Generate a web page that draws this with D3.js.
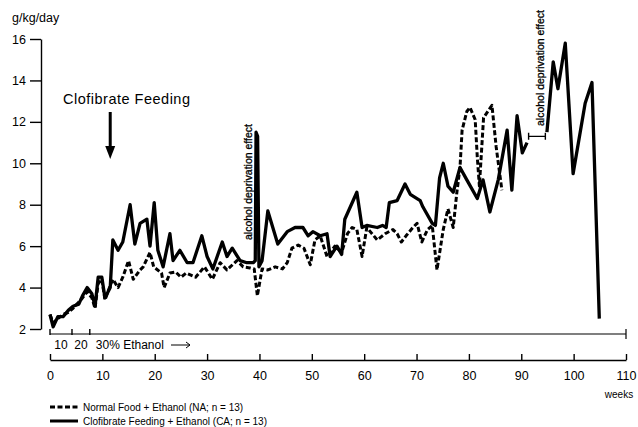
<!DOCTYPE html>
<html>
<head>
<meta charset="utf-8">
<script src="https://cdn.jsdelivr.net/npm/d3@7"></script>
<style>
  body { margin: 0; background: #fff; }
  svg { display: block; font-family: "Liberation Sans", Arial, sans-serif; }
</style>
</head>
<body>
<svg id="chart" width="638" height="427"></svg>
<script>
// clofibrate fed rats (CA), solid line; null = break in the curve
const caWeeks = [0, 0.6, 1.5, 2.5, 3.5, 4.4, 5.5, 6.2, 7.1, 8.0, 8.6, 9.2, 9.9, 10.5, 11.5, 12.0, 13.0, 13.9, 15.3, 16.2,
  17.2, 18.5, 19.1, 19.9, 20.6, 21.6, 22.9, 23.5, 24.8, 26.2, 27.3, 29.0, 30.0, 31.1, 32.9, 33.8, 34.8, 36.3, 37.6, 38.8,
  39.2, 39.35, 39.65, 39.9, 40.5, 41.6, 43.5, 45.3, 46.8, 48.3, 49.3, 50.2, 51.6, 52.9, 53.5, 54.8, 55.7, 56.3, 58.6, 59.6, 60.5,
  62.5, 63.5, 64.2, 64.8, 66.3, 67.8, 68.8, 70.7, 71.2, 73.0, 73.6, 74.4, 75.1, 76.0, 77.0, 78.3, 79.6, 81.6, 82.7, 84.0,
  85.6, 87.3, 88.2, 89.2, 90.2, 91.1, 93.0, 94.9, 96.1, 97.0, 98.4, 99.9, 102.2, 103.5, 104.9]
const caValues = [2.7, 2.1, 2.6, 2.6, 2.9, 3.1, 3.2, 3.6, 4.0, 3.7, 3.1, 4.5, 4.5, 3.5, 4.0, 6.3, 5.8, 6.2, 8.0, 6.1,
  7.1, 7.3, 6.0, 8.1, 5.8, 5.0, 6.6, 5.3, 5.8, 5.2, 5.2, 6.5, 5.5, 4.9, 6.2, 5.5, 5.9, 5.3, 5.2, 5.2,
  5.3, 11.5, 11.3, 5.0, 5.3, 7.7, 6.1, 6.7, 6.9, 6.9, 6.5, 6.7, 6.5, 6.6, 5.5, 6.0, 5.6, 7.3, 8.6, 6.9, 7.0,
  6.9, 7.0, 6.9, 8.1, 8.2, 9.0, 8.5, 8.2, 7.9, 7.1, 7.0, 9.3, 10.0, 8.9, 8.6, 9.8, 9.2, 8.3, 9.2, 7.65,
  9.2, 11.6, 8.7, 12.3, 10.5, 11.0, null, 11.5, 14.9, 13.6, 15.8, 9.5, 12.9, 13.9, 2.5]

// normal food rats (NA), dashed line
const naWeeks = [0, 0.6, 1.5, 2.5, 3.5, 4.4, 5.5, 6.2, 7.1, 8.0, 8.6, 9.2, 9.9, 10.5, 11.5, 12.0, 13.0, 13.9, 15.0, 15.9,
  17.2, 17.8, 19.1, 19.8, 21.3, 21.8, 22.9, 24.0, 25.0, 26.0, 27.8, 29.5, 31.0, 32.5, 33.8, 35.7, 36.9, 38.2, 39.0, 39.6,
  40.5, 41.6, 43.0, 44.4, 45.3, 46.2, 47.4, 48.5, 49.7, 50.6, 51.6, 52.9, 54.4, 55.7, 56.8, 57.7, 58.6, 59.6, 60.5, 62.5,
  64.0, 65.5, 66.3, 67.1, 68.0, 69.3, 70.1, 71.0, 72.1, 73.0, 73.9, 75.1, 76.0, 77.0, 77.7, 78.3, 78.7, 79.6, 80.2, 81.2,
  81.6, 82.0, 82.8, 84.4, 85.2, 86.3]
const naValues = [2.7, 2.3, 2.5, 2.7, 2.8, 3.0, 3.3, 3.5, 3.8, 3.5, 3.0, 4.2, 4.4, 3.4, 4.1, 4.4, 4.0, 4.5, 5.3, 4.4,
  4.85, 5.0, 5.7, 5.0, 4.7, 4.0, 4.7, 4.75, 4.5, 4.7, 4.5, 5.0, 4.4, 5.2, 4.85, 5.3, 5.0, 4.95, 4.9, 3.6,
  4.9, 4.85, 5.0, 4.9, 5.2, 5.9, 6.05, 5.9, 5.1, 6.3, 6.5, 5.5, 6.0, 5.7, 6.6, 6.9, 6.8, 5.5, 6.9, 6.3,
  6.6, 6.8, 6.6, 6.2, 6.5, 6.9, 7.1, 6.2, 6.8, 7.0, 4.85, 6.8, 7.8, 6.9, 8.6, 9.8, 11.6, 12.5, 12.7, 12.1,
  10.3, 8.9, 12.2, 12.8, 10.8, 8.7]

const yTicks = [2, 4, 6, 8, 10, 12, 14, 16]
const xTicks = [0, 10, 20, 30, 40, 50, 60, 70, 80, 90, 100, 110]
const ethanolSteps = [0, 4.2, 7.6]          // weeks where ethanol concentration was raised
const ethanolLabels = ['10', '20', '30% Ethanol']
const legendLabels = ['Normal Food + Ethanol (NA; n = 13)', 'Clofibrate Feeding + Ethanol (CA; n = 13)']

const svg = d3.select('#chart')
const x = d3.scaleLinear().domain([0, 110]).range([50, 626])
const y = d3.scaleLinear().domain([2, 16]).range([329, 39])

const ca = caWeeks.map((w, i) => ({ w: w, v: caValues[i] }))
const na = naWeeks.map((w, i) => ({ w: w, v: naValues[i] }))

// y axis
const yAxis = svg.append('g')
  .attr('transform', 'translate(41,0)')
  .call(d3.axisLeft(y).tickValues(yTicks).tickSize(11).tickSizeOuter(0).tickPadding(4))
yAxis.selectAll('path, line').attr('stroke', '#000').attr('stroke-width', 1.4)
yAxis.selectAll('text').attr('font-size', 12.5).attr('fill', '#000').attr('font-family', null)

svg.append('text').attr('x', 12).attr('y', 22).attr('font-size', 12.5).text('g/kg/day')

// x axis (weeks), ticks point up
const xAxis = svg.append('g')
  .attr('transform', 'translate(0,360)')
  .call(d3.axisBottom(x).tickValues(xTicks).tickSize(-6).tickSizeOuter(0).tickPadding(11))
xAxis.selectAll('path, line').attr('stroke', '#000').attr('stroke-width', 1.4)
xAxis.selectAll('text').attr('font-size', 12.5).attr('fill', '#000').attr('font-family', null)

svg.append('text').attr('x', 619).attr('y', 398).attr('text-anchor', 'middle')
  .attr('font-size', 10).text('weeks')

// ethanol concentration line
const eY = 334
svg.append('line').attr('x1', x(0)).attr('x2', x(110)).attr('y1', eY).attr('y2', eY)
  .attr('stroke', '#000').attr('stroke-width', 1.2)
svg.append('line').attr('x1', x(110)).attr('x2', x(110)).attr('y1', eY - 5).attr('y2', eY + 5)
  .attr('stroke', '#000').attr('stroke-width', 1.2)
svg.selectAll('.estep').data(ethanolSteps).join('line')
  .attr('class', 'estep')
  .attr('x1', d => x(d)).attr('x2', d => x(d))
  .attr('y1', eY - 5).attr('y2', eY + 1)
  .attr('stroke', '#000').attr('stroke-width', 1.4)
svg.selectAll('.elabel').data(ethanolLabels).join('text')
  .attr('class', 'elabel')
  .attr('x', (d, i) => i < 2 ? x((ethanolSteps[i] + ethanolSteps[i + 1]) / 2) : x(ethanolSteps[i]) + 6)
  .attr('y', 349)
  .attr('text-anchor', (d, i) => i < 2 ? 'middle' : 'start')
  .attr('font-size', 12)
  .text(d => d)
svg.append('path').attr('d', 'M171,345H190M186,342L190,345L186,348')
  .attr('fill', 'none').attr('stroke', '#000').attr('stroke-width', 1)

// data lines
const line = d3.line()
  .defined(d => d.v !== null)
  .x(d => x(d.w))
  .y(d => y(d.v))

svg.append('path').datum(na).attr('d', line)
  .attr('fill', 'none').attr('stroke', '#000').attr('stroke-width', 3)
  .attr('stroke-dasharray', '5,2.5').attr('stroke-linejoin', 'round')
svg.append('path').datum(ca).attr('d', line)
  .attr('fill', 'none').attr('stroke', '#000').attr('stroke-width', 3.3)
  .attr('stroke-linejoin', 'round')

// annotations
svg.append('text').attr('x', 63).attr('y', 104).attr('font-size', 14.5)
  .attr('letter-spacing', 0.5).text('Clofibrate Feeding')
svg.append('line').attr('x1', x(11.5)).attr('x2', x(11.5)).attr('y1', 112).attr('y2', 148)
  .attr('stroke', '#000').attr('stroke-width', 3)
svg.append('path')
  .attr('d', `M${x(11.5) - 5},146L${x(11.5) + 5},146L${x(11.5)},159Z`)
  .attr('fill', '#000')

function deprivation(xPos, yBottom) {
  svg.append('text')
    .attr('transform', `translate(${xPos},${yBottom}) rotate(-90)`)
    .attr('font-size', 10.5)
    .attr('stroke', '#000').attr('stroke-width', 0.3)
    .text('alcohol deprivation effect')
}
deprivation(x(38.5), 240)
deprivation(x(94.4), 126)

// bar spanning the second deprivation gap
const gy = y(11.3)
svg.append('path')
  .attr('d', `M${x(91.4)},${gy}H${x(94.6)}M${x(91.4)},${gy - 3.5}V${gy + 3.5}M${x(94.6)},${gy - 3.5}V${gy + 3.5}`)
  .attr('fill', 'none').attr('stroke', '#000').attr('stroke-width', 1.4)

// legend
const legend = svg.selectAll('.legend').data(legendLabels).join('g')
  .attr('class', 'legend')
  .attr('transform', (d, i) => `translate(50,${407 + i * 14})`)
legend.append('line').attr('x1', 0).attr('x2', 28)
  .attr('stroke', '#000').attr('stroke-width', 3)
  .attr('stroke-dasharray', (d, i) => i === 0 ? '5,2.5' : null)
legend.append('text').attr('x', 33).attr('y', 4).attr('font-size', 10).text(d => d)
</script>
</body>
</html>
